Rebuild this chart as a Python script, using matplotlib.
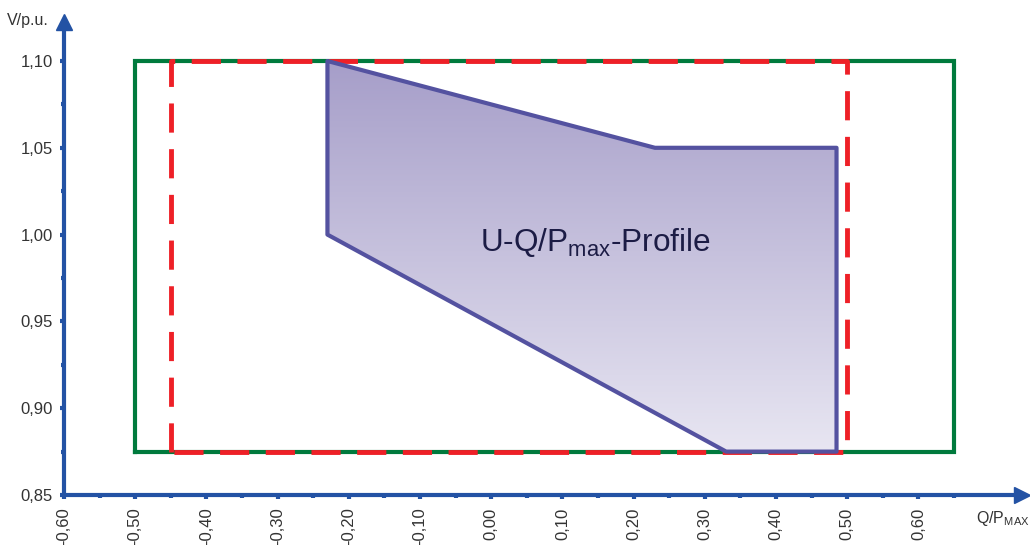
import matplotlib
matplotlib.use("Agg")
import matplotlib.pyplot as plt
import numpy as np
from matplotlib.patches import Polygon
from matplotlib.ticker import FixedLocator, FuncFormatter

plt.rcParams['font.family'] = ['Liberation Sans', 'DejaVu Sans']
plt.rcParams['mathtext.fontset'] = 'custom'
plt.rcParams['mathtext.rm'] = 'Liberation Sans'
plt.rcParams['mathtext.it'] = 'Liberation Sans'

# data
x_major = [-0.60, -0.50, -0.40, -0.30, -0.20, -0.10, 0.00, 0.10, 0.20, 0.30, 0.40, 0.50, 0.60]
y_major = [0.85, 0.90, 0.95, 1.00, 1.05, 1.10]
green_q = [-0.50, 0.65, 0.65, -0.50, -0.50]
green_v = [0.875, 0.875, 1.10, 1.10, 0.875]
red_q = [-0.45, -0.45, 0.50, 0.50, -0.45]
red_v = [0.875, 1.10, 1.10, 0.875, 0.875]
profile_q = [-0.23, 0.23, 0.485, 0.485, 0.33, -0.23]
profile_v = [1.10, 1.05, 1.05, 0.875, 0.875, 1.00]

AX_BLUE = '#2352a4'
GREEN = '#007a3d'
RED = '#ee2027'

W, H = 1030, 545
fig = plt.figure(figsize=(W / 100, H / 100), dpi=100)
x0px, y0px = 64, 495
xright, ytop = 1022, 22
ax = fig.add_axes([x0px / W, (H - y0px) / H, (xright - x0px) / W, (y0px - ytop) / H])
xpu = 712.0  # px per unit
ypu = 1736.0
XLIM = (-0.60, -0.60 + (xright - x0px) / xpu)
YLIM = (0.85, 0.85 + (y0px - ytop) / ypu)

for s in ['top', 'right']:
    ax.spines[s].set_visible(False)
for s in ['left', 'bottom']:
    ax.spines[s].set_color(AX_BLUE)
    ax.spines[s].set_linewidth(3)
    ax.spines[s].set_capstyle('butt')

# arrowheads
ax.plot(1, 0, marker='>', color=AX_BLUE, markersize=11, transform=ax.transAxes, clip_on=False)
ax.plot(0, 1, marker='^', color=AX_BLUE, markersize=11, transform=ax.transAxes, clip_on=False)

ax.xaxis.set_major_locator(FixedLocator(x_major))
ax.xaxis.set_minor_locator(FixedLocator([v + 0.05 for v in x_major]))
ax.yaxis.set_major_locator(FixedLocator(y_major))
ax.yaxis.set_minor_locator(FixedLocator([v + 0.025 for v in y_major]))
fmt = FuncFormatter(lambda v, p: f"{v:.2f}".replace('.', ',').replace('-0,00', '0,00'))
ax.xaxis.set_major_formatter(fmt)
ax.yaxis.set_major_formatter(fmt)
ax.tick_params(axis='both', which='both', color=AX_BLUE, width=3, direction='out',
               labelcolor='#333333', labelsize=12)
ax.tick_params(axis='both', which='major', length=3)
ax.tick_params(axis='both', which='minor', length=2)
ax.tick_params(axis='x', pad=6, labelrotation=90)
ax.tick_params(axis='y', pad=5)

# green rectangle
ax.plot(green_q, green_v, color=GREEN, lw=3, solid_joinstyle='miter', zorder=2)
# red dashed rectangle
ax.plot(red_q, red_v, color=RED, lw=3.5, linestyle=(0, (6.0, 3.4)), dash_capstyle='butt', zorder=3)

# profile polygon with gradient
poly = Polygon(list(zip(profile_q, profile_v)), closed=True, facecolor='none',
               edgecolor='#5452a0', lw=3, joinstyle='round', zorder=5)
ax.add_patch(poly)
grad = np.linspace(0, 1, 256).reshape(-1, 1)
top_c = np.array([0xa6, 0x9e, 0xc9]) / 255
bot_c = np.array([0xe8, 0xe6, 0xf2]) / 255
img = top_c[None, None, :] * (1 - grad[:, :, None]) + bot_c[None, None, :] * grad[:, :, None]
im = ax.imshow(img, extent=[min(profile_q), max(profile_q), min(profile_v), max(profile_v)],
               origin='upper', aspect='auto', zorder=4, interpolation='bilinear')
clip = Polygon(list(zip(profile_q, profile_v)), closed=True, transform=ax.transData)
im.set_clip_path(clip)
ax.set_xlim(*XLIM)
ax.set_ylim(*YLIM)

ax.text(-0.0155, 0.9906, r'U-Q/P$_{\mathrm{max}}$-Profile', fontsize=22.7, color='#1c1c45',
        ha='left', va='baseline', zorder=6)

fig.text(7 / W, 1 - 20 / H, 'V/p.u.', fontsize=11.5, color='#333333', ha='left', va='center')
fig.text(976 / W, 1 - 519 / H, r'Q/P$_{\mathrm{MAX}}$', fontsize=11.5, color='#333333',
         ha='left', va='center')

fig.savefig('out.png', dpi=100)
